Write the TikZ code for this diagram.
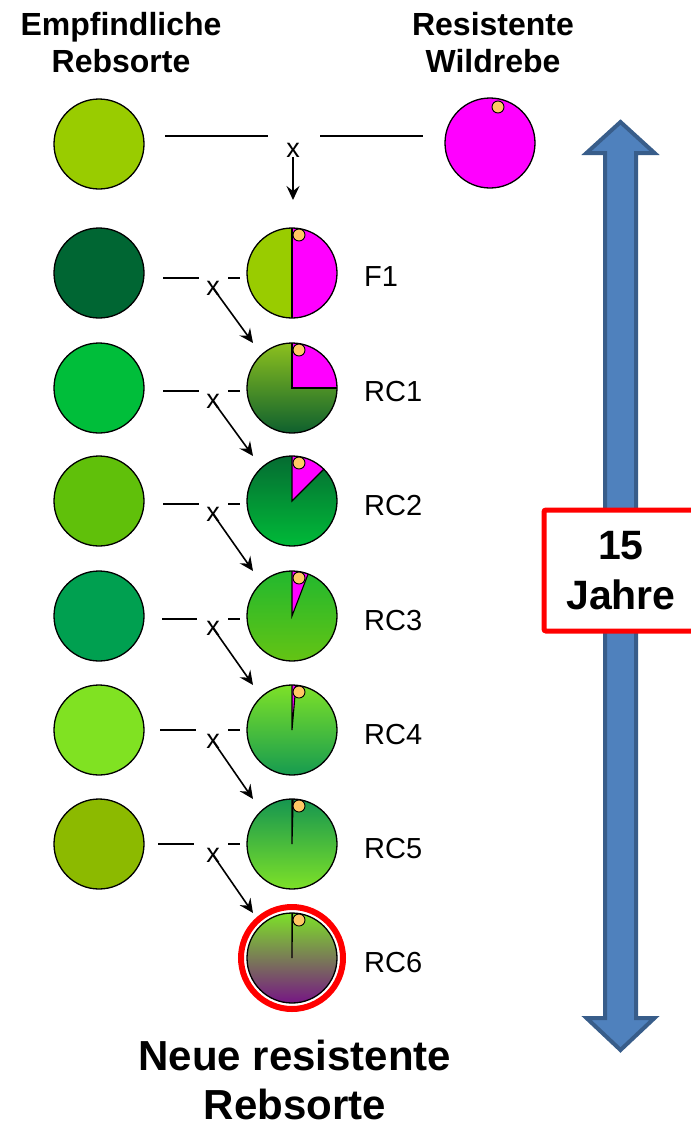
\documentclass[tikz,border=0pt]{standalone}
\usepackage{fontspec}
\setmainfont{Liberation Sans}
\usetikzlibrary{arrows.meta,calc}

\definecolor{topgreen}{RGB}{153,204,0}
\definecolor{wildmag}{RGB}{255,0,255}
\definecolor{gA}{RGB}{0,102,51}
\definecolor{gB}{RGB}{0,190,58}
\definecolor{gC}{RGB}{96,192,10}
\definecolor{gD}{RGB}{0,160,80}
\definecolor{gE}{RGB}{128,226,34}
\definecolor{gF}{RGB}{140,186,0}
\definecolor{dotc}{RGB}{255,200,100}
\definecolor{arrowfill}{RGB}{79,129,189}
\definecolor{arrowedge}{RGB}{56,93,138}
\definecolor{purp}{RGB}{118,22,132}

\begin{document}
\begin{tikzpicture}[x=1pt,y=1pt,
  parent/.style={circle,draw=black,line width=1.3,minimum size=90,inner sep=0},
  wedge/.style={path picture={
      \fill[wildmag] (path picture bounding box.center) -- ++(#1:47)
        arc[start angle=#1,end angle=90,radius=47] -- cycle;
      \draw[line width=1.1] ($(path picture bounding box.center)+(#1:47)$)
        -- (path picture bounding box.center) -- ++(90:47);}},
  dot/.style={circle,draw=black,line width=0.9,fill=dotc,minimum size=12,inner sep=0},
  cross/.style={font=\fontsize{27}{27}\selectfont,inner sep=0},
  lbl/.style={font=\fontsize{29}{29}\selectfont,anchor=west,inner sep=0},
  head/.style={font=\fontsize{32}{37}\selectfont\bfseries,align=center,anchor=north,inner sep=0},
  arr/.style={-{Stealth[length=14pt,width=13pt,inset=5pt]},line width=1.6},
  bar/.style={line width=1.3}
]
\useasboundingbox (0,0) rectangle (691,-1128);

% column headings
\node[head] (hl) at (121,-12) {Empfindliche\\Rebsorte};
\node[head] (hr) at (493,-12) {Resistente\\Wildrebe};

% time arrow
\draw[line width=4,line join=miter,fill=arrowfill,draw=arrowedge]
  (620.5,-122) -- (654.5,-153) -- (636,-153) -- (636,-1018) -- (654.5,-1018)
  -- (620.5,-1050) -- (586.5,-1018) -- (605,-1018) -- (605,-153) -- (586.5,-153) -- cycle;
\node[draw=red,line width=5,fill=white,rounded corners=2,minimum width=154,
  minimum height=121,inner sep=0,align=center,
  font=\fontsize{41}{50}\selectfont\bfseries] (yrs) at (621,-570.5) {15\\Jahre};

% parent lines
\node[parent,fill=topgreen] (p0) at (99,-144) {};
\node[parent,fill=wildmag] (w0) at (490,-143) {};
\node[dot] (dw) at ([shift={(8,36)}]w0.center) {};
\node[parent,fill=gA] (p1) at (99,-273) {};
\node[parent,fill=gB] (p2) at (99,-388) {};
\node[parent,fill=gC] (p3) at (99,-501) {};
\node[parent,fill=gD] (p4) at (99,-616) {};
\node[parent,fill=gE] (p5) at (99,-730) {};
\node[parent,fill=gF] (p6) at (99,-844) {};

% hybrids with the remaining wild share
\node[parent,fill=topgreen,wedge=-90] (h0) at (292,-273) {};
\node[parent,top color={rgb,255:red,140;green,192;blue,30},
  bottom color={rgb,255:red,14;green,96;blue,46},wedge=0] (h1) at (292,-388) {};
\node[parent,top color={rgb,255:red,5;green,108;blue,50},
  bottom color={rgb,255:red,0;green,186;blue,56},wedge=45] (h2) at (292,-501) {};
\node[parent,top color={rgb,255:red,34;green,184;blue,46},
  bottom color={rgb,255:red,100;green,196;blue,20},wedge=69] (h3) at (292,-616) {};
\node[parent,top color={rgb,255:red,125;green,225;blue,40},
  bottom color={rgb,255:red,22;green,155;blue,80},wedge=85] (h4) at (292,-730) {};
\node[parent,top color={rgb,255:red,22;green,150;blue,80},
  bottom color={rgb,255:red,125;green,225;blue,40},wedge=88.5] (h5) at (292,-844) {};
\node[parent,top color={rgb,255:red,125;green,225;blue,40},
  middle color={rgb,255:red,122;green,150;blue,88},
  bottom color=purp,wedge=89.3] (h6) at (292,-958) {};
\foreach \i in {0,...,6}
  \node[dot] (d\i) at ([shift={(7,38)}]h\i.center) {};
\node[circle,draw=red,line width=6,minimum size=102,inner sep=0] (ring) at (h6.center) {};

% generation labels
\node[lbl] (l0) at (364,-277) {F1};
\node[lbl] (l1) at (364,-392) {RC1};
\node[lbl] (l2) at (364,-506) {RC2};
\node[lbl] (l3) at (364,-621) {RC3};
\node[lbl] (l4) at (364,-735) {RC4};
\node[lbl] (l5) at (364,-849) {RC5};
\node[lbl] (l6) at (364,-963) {RC6};

% first cross
\draw[bar] (165,-136) -- (268,-136) (320,-136) -- (423,-136);
\node[cross] (x0) at (293,-150) {x};
\coordinate (f1in) at (293,-200);
\draw[arr] (x0.south) -- (f1in);

% backcrosses
\foreach \i/\ry/\lo/\xo/\ls/\le in {1/273/5/15/163/199,2/388/3/13/163/199,
    3/501/3/13/163/199,4/616/3/12/162/197,5/730/0/11/160/196,6/844/0/11/158/194}{
  \draw[bar] (\ls,-\ry-\lo) -- (\le,-\ry-\lo) (228,-\ry-\lo) -- (240,-\ry-\lo);
  \node[cross] (x\i) at (213,-\ry-\xo) {x};
  \draw[arr] (x\i.center) -- ([shift={(-39,45)}]h\i.center);
}

% result
\node[head,font=\fontsize{42}{49}\selectfont\bfseries] (res) at (295,-1040)
  {Neue resistente\\Rebsorte};
\end{tikzpicture}
\end{document}
